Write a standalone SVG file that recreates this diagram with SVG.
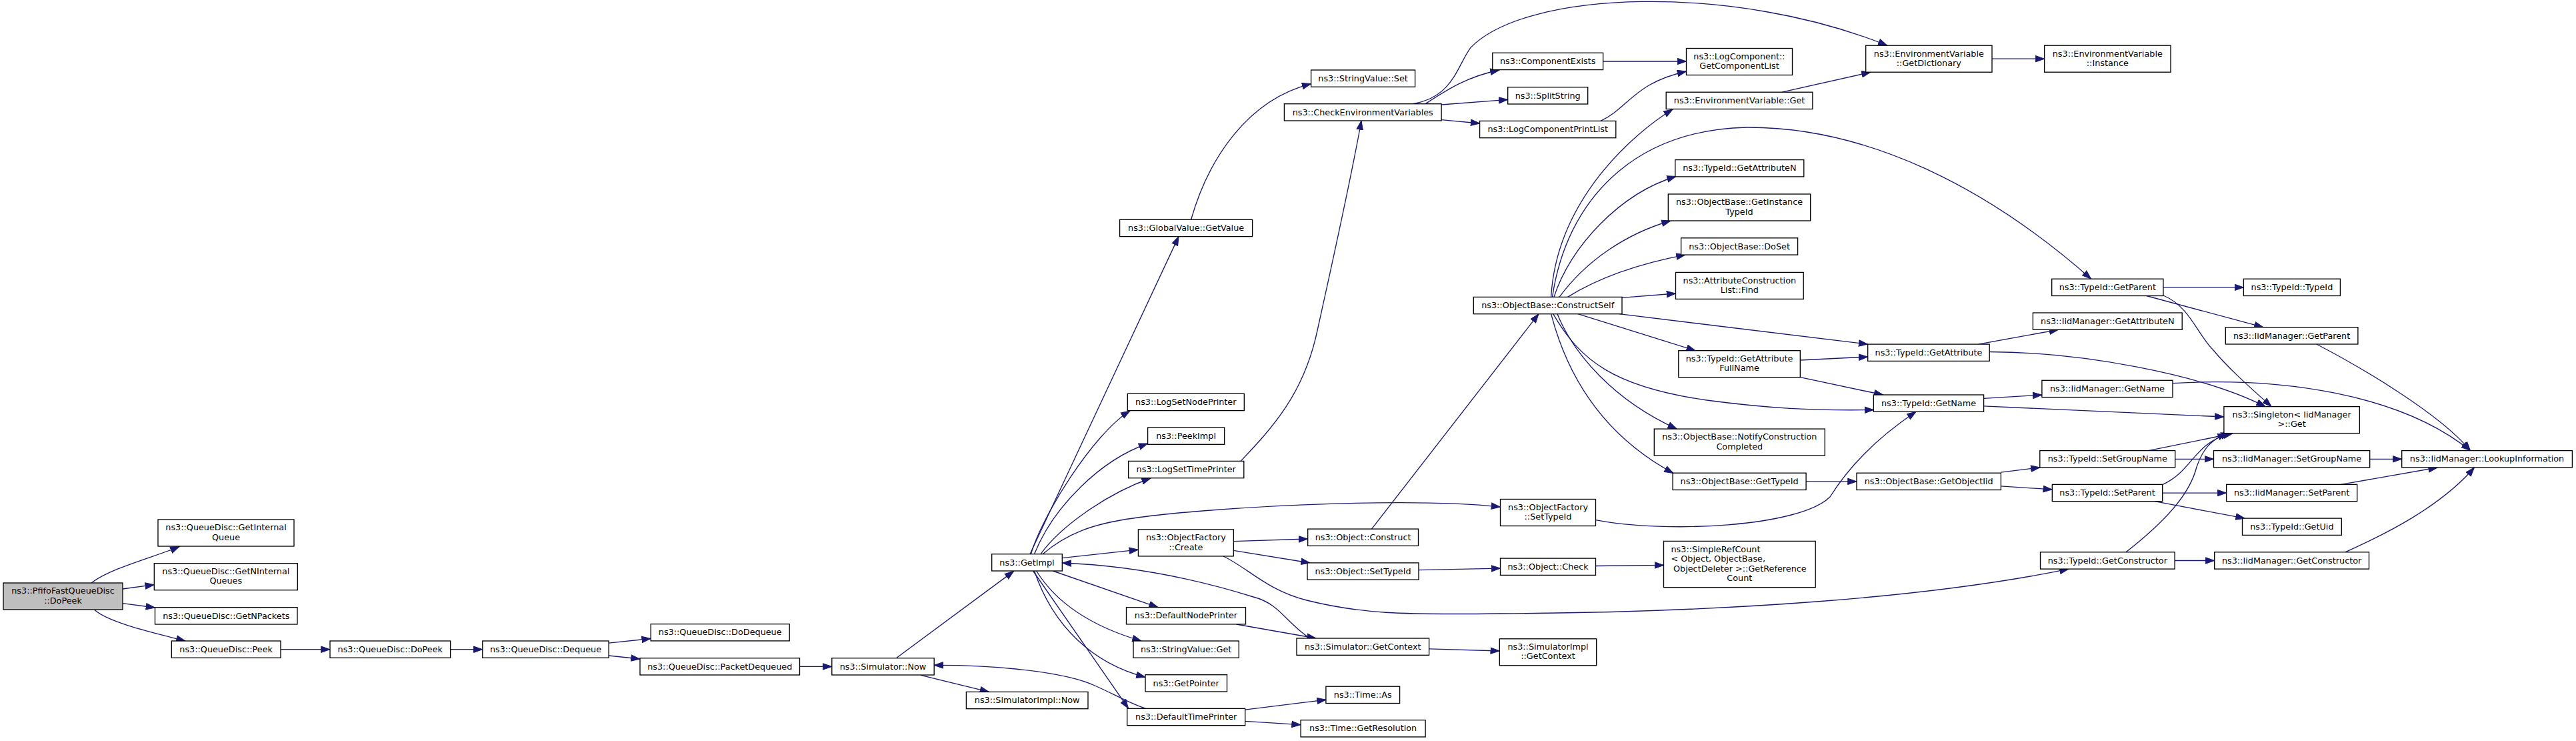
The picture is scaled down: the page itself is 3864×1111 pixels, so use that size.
<svg xmlns="http://www.w3.org/2000/svg" width="3864" height="1111" viewBox="0 0 3864 1111">
<defs>
<style>
.node rect{fill:#ffffff;stroke:#000000;stroke-width:1.33}
.node.hl rect{fill:#bfbfbf}
.node text{font-family:"DejaVu Sans","Liberation Sans",sans-serif;font-size:12.8px;text-anchor:middle;fill:#000000}
.node text.l{text-anchor:start}
.edges path{fill:none;stroke:#191970;stroke-width:1.33;marker-end:url(#ah)}
</style>
<marker id="ah" markerUnits="userSpaceOnUse" markerWidth="15" markerHeight="11" viewBox="0 0 15 11" refX="13.8" refY="5.5" orient="auto">
<path d="M0.5,0.8 L13.8,5.5 L0.5,10.2 z" fill="#191970" stroke="#191970" stroke-width="1"/>
</marker>
</defs>
<rect x="0" y="0" width="3864" height="1111" fill="#ffffff"/>
<g id="edges" class="edges">
<path d="M137,874 C165,852 232,835 269,819.6"/>
<path d="M184,883 L231.3,876.7"/>
<path d="M184,904.6 L232.5,911"/>
<path d="M142,914.6 C165,935 240,951 278,961"/>
<path d="M421,973.7 L495,973.7"/>
<path d="M675.6,973.7 L723.8,973.7"/>
<path d="M913.1,964.2 L976.2,957.5"/>
<path d="M913.1,983 L960,988"/>
<path d="M1199.5,999.4 L1247.8,999.4"/>
<path d="M1344.3,986.7 L1520.6,856.4"/>
<path d="M1381.4,1012.4 L1483.5,1037.4"/>
<path d="M1545,830.7 L1768,354.6"/>
<path d="M1546.5,830.7 C1562,775 1640,650 1695,616"/>
<path d="M1551.5,830.7 C1580,760 1650,690 1721.6,665"/>
<path d="M1561,830.7 C1590,790 1660,740 1726,717"/>
<path d="M1564,830.7 C1600,800 1640,785 1700,777 C1800,762 2100,744 2250.5,760"/>
<path d="M1593.3,836.7 L1707.4,824.2"/>
<path d="M1579.3,856 L1737,910.6"/>
<path d="M1554.6,856 C1585,905 1640,940 1712,961"/>
<path d="M1551.5,856 C1580,940 1640,995 1718,1015.3"/>
<path d="M1549.6,856 L1692.5,1062"/>
<path d="M1786.6,329.3 C1812,240 1870,150 1966.6,125.7"/>
<path d="M1861,691.4 C1910,640 1955,590 1975,500 C1995,410 2028,260 2042,181"/>
<path d="M2138,155.7 C2170,135 2200,115 2249,105"/>
<path d="M2162,157 L2261.7,149.3"/>
<path d="M2162,179.6 L2219.6,185"/>
<path d="M2119.4,155.7 C2180,145 2185,100 2206,71.4 C2290,-15 2600,-25 2830.8,68.2"/>
<path d="M2404.6,92 L2529.5,92"/>
<path d="M2401,181.4 C2445,160 2450,125 2529.5,107"/>
<path d="M2673,138.2 L2806,108.2"/>
<path d="M2988,88.2 L3066.6,88.2"/>
<path d="M1850.3,811.7 L1961.7,808"/>
<path d="M1850.3,825.3 L1965,844"/>
<path d="M1834.8,834 C1870,850 1900,885 1960,900 C2040,920 2100,922 2250,920 C2600,918 2900,895 3103,853.1"/>
<path d="M1854.6,936 L1974,957"/>
<path d="M1965,957 C1930,935 1920,905 1880,895 C1800,870 1700,848 1593.3,844"/>
<path d="M1718.5,1062.4 C1695,1055 1670,1040 1640,1027 C1590,1005 1480,997 1401.2,997.4"/>
<path d="M1867.6,1064.2 L1988.9,1049.2"/>
<path d="M1867.6,1081.4 L1951.1,1086.7"/>
<path d="M2143.6,972.8 L2249.3,976"/>
<path d="M2057.5,793.1 L2308,470.7"/>
<path d="M2128,854.6 L2250.5,852.1"/>
<path d="M2393.5,848.5 L2495.5,847.4"/>
<path d="M2393.5,779.6 C2500,800 2700,790 2745,745 C2770,705 2810,660 2874,617.3"/>
<path d="M2326.6,445.4 C2335,300 2450,200 2509,164"/>
<path d="M2328.5,445.4 C2350,300 2450,195 2620,191 C2800,190 2980,280 3136.7,418.2"/>
<path d="M2331,445.4 C2355,370 2430,290 2514,264.5"/>
<path d="M2339,445.4 C2380,390 2440,350 2506,331"/>
<path d="M2351.4,445.4 C2400,415 2460,395 2528,382.1"/>
<path d="M2433,446.4 L2513.5,440"/>
<path d="M2428.7,470.7 L2801.7,516.1"/>
<path d="M2366.8,470.7 L2543.2,525.7"/>
<path d="M2329.7,470.7 C2370,540 2420,580 2560,600 C2650,612 2720,616 2810.4,614.5"/>
<path d="M2336,470.7 C2360,530 2420,600 2515.3,643.1"/>
<path d="M2326.6,470.7 C2350,560 2400,650 2510,709.5"/>
<path d="M2700.3,540 L2801.7,535"/>
<path d="M2700.3,565.7 L2824.6,592"/>
<path d="M2967.6,516.1 L3087.5,494.3"/>
<path d="M2984.2,527.5 C3120,528 3300,560 3398,609.6"/>
<path d="M3244.9,430.9 L3365.4,430.9"/>
<path d="M3219.7,443.5 L3394.9,490.7"/>
<path d="M3245,443 C3285,460 3295,500 3320,525 C3345,555 3380,585 3407,609.6"/>
<path d="M3474.8,516 C3540,550 3660,620 3705.4,675.6"/>
<path d="M2975.6,597.4 L3062.9,592.1"/>
<path d="M2975.6,608.9 L3335.9,625"/>
<path d="M3259,574.6 C3420,565 3600,590 3705.4,675.6"/>
<path d="M2709.1,721.9 L2785,721.9"/>
<path d="M3001.4,708.1 L3059.8,701"/>
<path d="M3001.4,728.9 L3078.3,733.9"/>
<path d="M3222.8,675.6 L3348.8,650"/>
<path d="M3262.7,688.3 L3320.5,688.3"/>
<path d="M3554.7,688.3 L3602.7,688.3"/>
<path d="M3244.3,726.4 C3290,705 3290,665 3345,649.8"/>
<path d="M3243.7,739.1 L3339.6,739.1"/>
<path d="M3232,751.7 L3367.2,777.1"/>
<path d="M3511.7,726.4 L3656.2,701"/>
<path d="M3189,827.8 C3250,780 3285,740 3295,700 C3305,670 3320,658 3340,649.8"/>
<path d="M3262.1,840.5 L3321.7,840.5"/>
<path d="M3517.8,827.8 C3580,800 3660,760 3711.5,701"/>
</g>
<g id="n_pfifo" class="node hl"><rect x="5" y="874" width="179" height="40"/><text x="94.5" y="890.3">ns3::PfifoFastQueueDisc</text><text x="94.5" y="904.6">::DoPeek</text></g>
<g id="n_getinternalqueue" class="node"><rect x="237" y="779" width="204" height="40"/><text x="339" y="795.3">ns3::QueueDisc::GetInternal</text><text x="339" y="809.6">Queue</text></g>
<g id="n_getninternalqueues" class="node"><rect x="231.3" y="844.7" width="215" height="40"/><text x="338.8" y="861">ns3::QueueDisc::GetNInternal</text><text x="338.8" y="875.3">Queues</text></g>
<g id="n_getnpackets" class="node"><rect x="232.5" y="910.7" width="213.5" height="25.3"/><text x="339.25" y="927.5">ns3::QueueDisc::GetNPackets</text></g>
<g id="n_peek" class="node"><rect x="257.3" y="961" width="163.7" height="25.3"/><text x="339.15" y="977.8">ns3::QueueDisc::Peek</text></g>
<g id="n_qddopeek" class="node"><rect x="495" y="961" width="180.6" height="25.3"/><text x="585.3" y="977.8">ns3::QueueDisc::DoPeek</text></g>
<g id="n_dequeue" class="node"><rect x="723.8" y="961" width="189.3" height="25.3"/><text x="818.45" y="977.8">ns3::QueueDisc::Dequeue</text></g>
<g id="n_dodequeue" class="node"><rect x="976.2" y="935.6" width="208" height="25.3"/><text x="1080.2" y="952.4">ns3::QueueDisc::DoDequeue</text></g>
<g id="n_packetdequeued" class="node"><rect x="960" y="986.7" width="239.5" height="25.3"/><text x="1079.75" y="1003.5">ns3::QueueDisc::PacketDequeued</text></g>
<g id="n_simnow" class="node"><rect x="1247.8" y="986.7" width="153.4" height="25.3"/><text x="1324.5" y="1003.5">ns3::Simulator::Now</text></g>
<g id="n_simimplnow" class="node"><rect x="1449.4" y="1037.4" width="182.6" height="25.3"/><text x="1540.7" y="1054.2">ns3::SimulatorImpl::Now</text></g>
<g id="n_getimpl" class="node"><rect x="1487.7" y="830.7" width="105.6" height="25.3"/><text x="1540.5" y="847.5">ns3::GetImpl</text></g>
<g id="n_logsetnodeprinter" class="node"><rect x="1691.3" y="590.3" width="175" height="25.3"/><text x="1778.8" y="607.1">ns3::LogSetNodePrinter</text></g>
<g id="n_peekimpl" class="node"><rect x="1721.6" y="641" width="115" height="25.3"/><text x="1779.1" y="657.8">ns3::PeekImpl</text></g>
<g id="n_logsettimeprinter" class="node"><rect x="1692.6" y="691.4" width="173.2" height="25.3"/><text x="1779.2" y="708.2">ns3::LogSetTimePrinter</text></g>
<g id="n_ofcreate" class="node"><rect x="1707.4" y="793.9" width="143" height="40"/><text x="1778.9" y="810.2">ns3::ObjectFactory</text><text x="1778.9" y="824.5">::Create</text></g>
<g id="n_defaultnodeprinter" class="node"><rect x="1689.5" y="910.6" width="179" height="25.3"/><text x="1779" y="927.4">ns3::DefaultNodePrinter</text></g>
<g id="n_stringvalueget" class="node"><rect x="1700" y="961" width="158.3" height="25.3"/><text x="1779.15" y="977.8">ns3::StringValue::Get</text></g>
<g id="n_getpointer" class="node"><rect x="1718" y="1011.7" width="122.5" height="25.3"/><text x="1779.25" y="1028.5">ns3::GetPointer</text></g>
<g id="n_defaulttimeprinter" class="node"><rect x="1690.7" y="1062.4" width="177" height="25.3"/><text x="1779.2" y="1079.2">ns3::DefaultTimePrinter</text></g>
<g id="n_globalvalue" class="node"><rect x="1679.6" y="329.3" width="199" height="25.3"/><text x="1779.1" y="346.1">ns3::GlobalValue::GetValue</text></g>
<g id="n_stringvalueset" class="node"><rect x="1966.6" y="105" width="156" height="25.3"/><text x="2044.6" y="121.8">ns3::StringValue::Set</text></g>
<g id="n_checkenv" class="node"><rect x="1926.4" y="155.7" width="235.7" height="25.3"/><text x="2044.25" y="172.5">ns3::CheckEnvironmentVariables</text></g>
<g id="n_componentexists" class="node"><rect x="2238.8" y="79.3" width="165.8" height="25.3"/><text x="2321.7" y="96.1">ns3::ComponentExists</text></g>
<g id="n_splitstring" class="node"><rect x="2261.7" y="130.7" width="120" height="25.3"/><text x="2321.7" y="147.5">ns3::SplitString</text></g>
<g id="n_logcompprintlist" class="node"><rect x="2219.6" y="181.4" width="204.2" height="25.3"/><text x="2321.7" y="198.2">ns3::LogComponentPrintList</text></g>
<g id="n_getcomponentlist" class="node"><rect x="2529.5" y="72.5" width="159" height="40"/><text x="2609" y="88.8">ns3::LogComponent::</text><text x="2609" y="103.1">GetComponentList</text></g>
<g id="n_envget" class="node"><rect x="2499.2" y="138.2" width="219.7" height="25.3"/><text x="2609.05" y="155">ns3::EnvironmentVariable::Get</text></g>
<g id="n_getdictionary" class="node"><rect x="2798.7" y="68.2" width="189.3" height="40"/><text x="2893.35" y="84.5">ns3::EnvironmentVariable</text><text x="2893.35" y="98.8">::GetDictionary</text></g>
<g id="n_envinstance" class="node"><rect x="3066.6" y="68.2" width="189.4" height="40"/><text x="3161.3" y="84.5">ns3::EnvironmentVariable</text><text x="3161.3" y="98.8">::Instance</text></g>
<g id="n_getattributen" class="node"><rect x="2512.8" y="239.6" width="193" height="25.3"/><text x="2609.3" y="256.4">ns3::TypeId::GetAttributeN</text></g>
<g id="n_getinstancetypeid" class="node"><rect x="2502.3" y="291" width="213.4" height="40"/><text x="2609" y="307.3">ns3::ObjectBase::GetInstance</text><text x="2609" y="321.6">TypeId</text></g>
<g id="n_doset" class="node"><rect x="2521.6" y="356.8" width="175" height="25.3"/><text x="2609.1" y="373.6">ns3::ObjectBase::DoSet</text></g>
<g id="n_attrfind" class="node"><rect x="2513.5" y="408.4" width="191.7" height="40"/><text x="2609.35" y="424.7">ns3::AttributeConstruction</text><text x="2609.35" y="439">List::Find</text></g>
<g id="n_constructself" class="node"><rect x="2210.3" y="445.4" width="222.7" height="25.3"/><text x="2321.65" y="462.2">ns3::ObjectBase::ConstructSelf</text></g>
<g id="n_getattrfullname" class="node"><rect x="2517.8" y="525.7" width="182.5" height="40"/><text x="2609.05" y="542">ns3::TypeId::GetAttribute</text><text x="2609.05" y="556.3">FullName</text></g>
<g id="n_getattribute" class="node"><rect x="2801.7" y="516.1" width="182.5" height="25.3"/><text x="2892.95" y="532.9">ns3::TypeId::GetAttribute</text></g>
<g id="n_getparent" class="node"><rect x="3077.7" y="418.2" width="167.2" height="25.3"/><text x="3161.3" y="435">ns3::TypeId::GetParent</text></g>
<g id="n_typeidtypeid" class="node"><rect x="3365.4" y="418.2" width="145" height="25.3"/><text x="3437.9" y="435">ns3::TypeId::TypeId</text></g>
<g id="n_iidgetattributen" class="node"><rect x="3049.4" y="469" width="223.8" height="25.3"/><text x="3161.3" y="485.8">ns3::IidManager::GetAttributeN</text></g>
<g id="n_iidgetparent" class="node"><rect x="3338.3" y="490.7" width="198.6" height="25.3"/><text x="3437.6" y="507.5">ns3::IidManager::GetParent</text></g>
<g id="n_getname" class="node"><rect x="2810.4" y="592" width="165.2" height="25.3"/><text x="2893" y="608.8">ns3::TypeId::GetName</text></g>
<g id="n_iidgetname" class="node"><rect x="3062.9" y="570.3" width="196.1" height="25.3"/><text x="3160.95" y="587.1">ns3::IidManager::GetName</text></g>
<g id="n_singleton" class="node"><rect x="3335.9" y="609.6" width="203.5" height="40"/><text x="3437.65" y="625.9">ns3::Singleton&lt; IidManager</text><text x="3437.65" y="640.2">&gt;::Get</text></g>
<g id="n_setgroupname" class="node"><rect x="3059.8" y="675.6" width="202.9" height="25.3"/><text x="3161.25" y="692.4">ns3::TypeId::SetGroupName</text></g>
<g id="n_iidsetgroupname" class="node"><rect x="3320.5" y="675.6" width="234.2" height="25.3"/><text x="3437.6" y="692.4">ns3::IidManager::SetGroupName</text></g>
<g id="n_lookupinfo" class="node"><rect x="3602.7" y="675.6" width="255.7" height="25.3"/><text x="3730.55" y="692.4">ns3::IidManager::LookupInformation</text></g>
<g id="n_getobjectiid" class="node"><rect x="2785" y="709.2" width="216.4" height="25.3"/><text x="2893.2" y="726">ns3::ObjectBase::GetObjectIid</text></g>
<g id="n_setparent" class="node"><rect x="3078.3" y="726.4" width="165.4" height="25.3"/><text x="3161" y="743.2">ns3::TypeId::SetParent</text></g>
<g id="n_iidsetparent" class="node"><rect x="3339.6" y="726.4" width="196.1" height="25.3"/><text x="3437.65" y="743.2">ns3::IidManager::SetParent</text></g>
<g id="n_getuid" class="node"><rect x="3363.5" y="777.1" width="148.8" height="25.3"/><text x="3437.9" y="793.9">ns3::TypeId::GetUid</text></g>
<g id="n_getconstructor" class="node"><rect x="3060.5" y="827.8" width="201.6" height="25.3"/><text x="3161.3" y="844.6">ns3::TypeId::GetConstructor</text></g>
<g id="n_iidgetconstructor" class="node"><rect x="3321.7" y="827.8" width="231.8" height="25.3"/><text x="3437.6" y="844.6">ns3::IidManager::GetConstructor</text></g>
<g id="n_notifyconstruction" class="node"><rect x="2481.3" y="643.1" width="256" height="40"/><text x="2609.3" y="659.4">ns3::ObjectBase::NotifyConstruction</text><text x="2609.3" y="673.7">Completed</text></g>
<g id="n_obgettypeid" class="node"><rect x="2509.1" y="709.2" width="200" height="25.3"/><text x="2609.1" y="726">ns3::ObjectBase::GetTypeId</text></g>
<g id="n_ofsettypeid" class="node"><rect x="2250.5" y="748.5" width="143" height="40"/><text x="2322" y="764.8">ns3::ObjectFactory</text><text x="2322" y="779.1">::SetTypeId</text></g>
<g id="n_objconstruct" class="node"><rect x="1961.7" y="793.1" width="165.8" height="25.3"/><text x="2044.6" y="809.9">ns3::Object::Construct</text></g>
<g id="n_objsettypeid" class="node"><rect x="1961" y="843.9" width="167" height="25.3"/><text x="2044.5" y="860.7">ns3::Object::SetTypeId</text></g>
<g id="n_objcheck" class="node"><rect x="2250.5" y="837.1" width="143" height="25.3"/><text x="2322" y="853.9">ns3::Object::Check</text></g>
<g id="n_simplerefcount" class="node"><rect x="2495.5" y="811.4" width="227.7" height="69.3"/><text class="l" x="2506.5" y="827.7">ns3::SimpleRefCount</text><text class="l" x="2506.5" y="842.2">&lt; Object, ObjectBase,</text><text class="l" x="2510" y="856.7">ObjectDeleter &gt;::GetReference</text><text x="2609.35" y="871.2">Count</text></g>
<g id="n_simgetcontext" class="node"><rect x="1945" y="957" width="198.6" height="25.3"/><text x="2044.3" y="973.8">ns3::Simulator::GetContext</text></g>
<g id="n_simimplgetcontext" class="node"><rect x="2249.3" y="957.8" width="145.4" height="40"/><text x="2322" y="974.1">ns3::SimulatorImpl</text><text x="2322" y="988.4">::GetContext</text></g>
<g id="n_timeas" class="node"><rect x="1988.9" y="1029.2" width="110.7" height="25.3"/><text x="2044.25" y="1046">ns3::Time::As</text></g>
<g id="n_timegetres" class="node"><rect x="1951.1" y="1079.6" width="187" height="25.3"/><text x="2044.6" y="1096.4">ns3::Time::GetResolution</text></g>
</svg>
